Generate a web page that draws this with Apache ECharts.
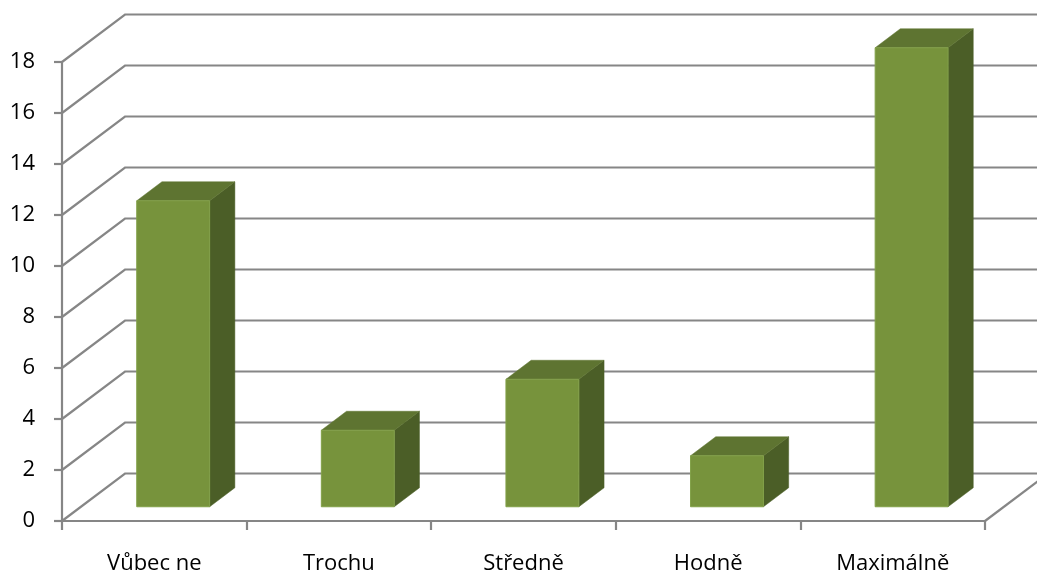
<!DOCTYPE html>
<html>
<head>
<meta charset="utf-8">
<script src="https://cdn.jsdelivr.net/npm/echarts@6/dist/echarts.min.js"></script>
<style>
  html, body { margin: 0; padding: 0; background: #ffffff; }
  #chart { width: 1037px; height: 575px; }
</style>
</head>
<body>
<div id="chart"></div>
<script>
// Data
const categories = ['Vůbec ne', 'Trochu', 'Středně', 'Hodně', 'Maximálně'];
const values = [12, 3, 5, 2, 18];
const yTicks = [0, 2, 4, 6, 8, 10, 12, 14, 16, 18];

// Oblique projection of the 3D box: how far the back wall sits from the front plane
const DEPTH_X = 63;
const DEPTH_Y = 47.5;
// Bars occupy the middle slice of the depth
const BAR_FRONT = 0.3;
const BAR_BACK = 0.7;
const BAR_WIDTH = 0.395; // fraction of a category band

const LINE = '#868686';
const LINE_W = 2.2;
const FRONT = '#77933C';
const TOP = '#5E7431';
const SIDE = '#4B5E27';
const FONT = '"Open Sans", Lato, sans-serif';

const chart = echarts.init(document.getElementById('chart'), null, { renderer: 'canvas' });

// Back wall grid lines plus the left wall diagonals; the floor also gets its right edge
function renderWall(params, api) {
  const rect = params.coordSys;
  const v = api.value(1);
  const y = api.coord([0, v])[1];
  const style = { stroke: LINE, lineWidth: LINE_W, fill: null };
  const children = [{
    type: 'polyline',
    shape: { points: [
      [rect.x, y],
      [rect.x + DEPTH_X, y - DEPTH_Y],
      [rect.x + rect.width + DEPTH_X, y - DEPTH_Y]
    ] },
    style: style
  }];
  if (v === 0) {
    children.push({
      type: 'line',
      shape: { x1: rect.x + rect.width, y1: y, x2: rect.x + rect.width + DEPTH_X, y2: y - DEPTH_Y },
      style: style
    });
  }
  return { type: 'group', children: children };
}

// Box-shaped bar: front face, top and right side
function renderBar(params, api) {
  const i = api.value(0);
  const v = api.value(1);
  const base = api.coord([i, 0]);
  const top = api.coord([i, v]);
  const band = api.size([1, 0])[0];
  const w = band * BAR_WIDTH;
  const fx = DEPTH_X * BAR_FRONT, fy = DEPTH_Y * BAR_FRONT;
  const sx = DEPTH_X * (BAR_BACK - BAR_FRONT), sy = DEPTH_Y * (BAR_BACK - BAR_FRONT);
  const x0 = base[0] - w / 2 + fx;
  const x1 = x0 + w;
  const yb = base[1] - fy;
  const yt = top[1] - fy;
  return {
    type: 'group',
    children: [
      { type: 'polygon',
        shape: { points: [[x1, yb], [x1, yt], [x1 + sx, yt - sy], [x1 + sx, yb - sy]] },
        style: { fill: SIDE, stroke: SIDE, lineWidth: 0.5 } },
      { type: 'polygon',
        shape: { points: [[x0, yt], [x1, yt], [x1 + sx, yt - sy], [x0 + sx, yt - sy]] },
        style: { fill: TOP, stroke: TOP, lineWidth: 0.5 } },
      { type: 'rect',
        shape: { x: x0, y: yt, width: w, height: yb - yt },
        style: { fill: FRONT, stroke: '#82A049', lineWidth: 1 } }
    ]
  };
}

chart.setOption({
  animation: false,
  backgroundColor: '#ffffff',
  grid: { left: 62, right: 52, top: 62, bottom: 53.5, containLabel: false },
  xAxis: {
    type: 'category',
    data: categories,
    boundaryGap: true,
    axisLine: { lineStyle: { color: LINE, width: LINE_W } },
    axisTick: { show: true, length: 9, lineStyle: { color: LINE, width: LINE_W } },
    axisLabel: { color: '#000000', fontSize: 22, fontFamily: FONT, margin: 32 },
    splitLine: { show: false }
  },
  yAxis: {
    type: 'value',
    min: 0,
    max: 18,
    interval: 2,
    axisLine: { show: true, lineStyle: { color: LINE, width: LINE_W } },
    axisTick: { show: true, length: 8, lineStyle: { color: LINE, width: LINE_W } },
    axisLabel: { color: '#000000', fontSize: 22, fontFamily: FONT, margin: 27 },
    splitLine: { show: false }
  },
  series: [
    {
      type: 'custom',
      renderItem: renderWall,
      data: yTicks.map(v => [0, v]),
      encode: { x: 0, y: 1 },
      silent: true,
      z: 1
    },
    {
      type: 'custom',
      renderItem: renderBar,
      data: values.map((v, i) => [i, v]),
      encode: { x: 0, y: 1 },
      z: 3
    }
  ]
});
</script>
</body>
</html>
